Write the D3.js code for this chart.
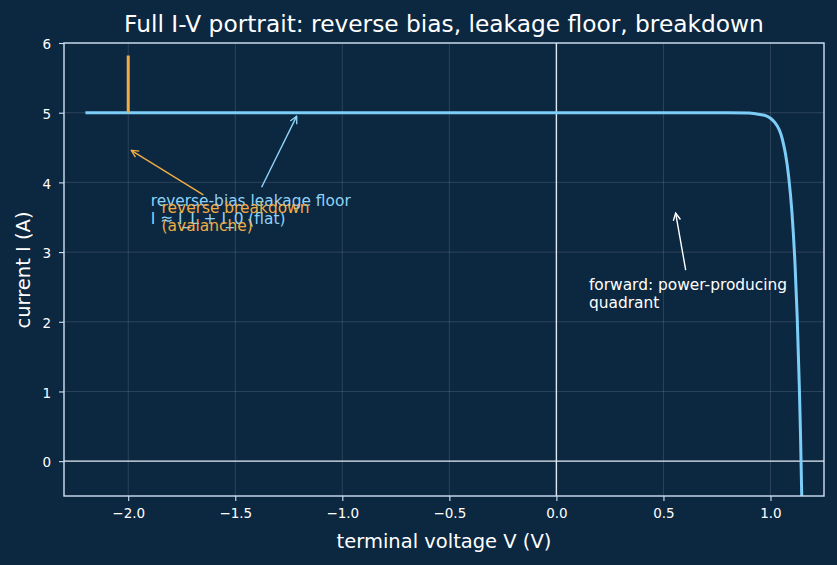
<!DOCTYPE html>
<html>
<head>
<meta charset="utf-8">
<script src="https://cdn.jsdelivr.net/npm/d3@7"></script>
<style>
  body { margin: 0; background: #0c2740; }
  svg { display: block; font-family: "DejaVu Sans", sans-serif; }
</style>
</head>
<body>
<svg id="chart" width="837" height="565"></svg>
<script>
// I-V curve
var voltage = [-2.2, -1.0, 0.0, 0.6, 0.8, 0.9, 0.95, 0.98, 1.0, 1.02, 1.04, 1.05, 1.06, 1.07, 1.085, 1.10, 1.115, 1.125, 1.135, 1.14, 1.146]
var current = [5.0, 5.0, 5.0, 5.0, 4.999, 4.994, 4.975, 4.955, 4.92, 4.86, 4.76, 4.68, 4.56, 4.41, 4.08, 3.58, 2.8, 2.05, 1.04, 0.42, -0.5]

// breakdown spike
var breakdownV = [-2.0, -2.0]
var breakdownI = [5.0, 5.82]

var xTicks = [-2.0, -1.5, -1.0, -0.5, 0.0, 0.5, 1.0]
var yTicks = [0, 1, 2, 3, 4, 5, 6]

// annotations: text lines, text anchor, arrow from -> to (data coords)
var notes = [
  {lines: ["reverse-bias leakage floor", "I \u2248 I_L + I_0 (flat)"], tx: -1.895, ty: 3.66, from: [-1.377, 3.93], to: [-1.213, 4.95], color: "#8fd3f7"},
  {lines: ["reverse breakdown", "(avalanche)"], tx: -1.844, ty: 3.56, from: [-1.649, 3.82], to: [-1.986, 4.46], color: "#f0ad45"},
  {lines: ["forward: power-producing", "quadrant"], tx: 0.152, ty: 2.45, from: [0.604, 2.74], to: [0.557, 3.56], color: "#ffffff"}
]

var svg = d3.select("#chart")
var mLeft = 64, mRight = 824, mTop = 43, mBottom = 496

var x = d3.scaleLinear().domain([-2.3, 1.25]).range([mLeft, mRight])
var y = d3.scaleLinear().domain([-0.5, 6]).range([mBottom, mTop])

var edgeColor = "#cfe2f3"

// grid
svg.append("g").selectAll("line")
  .data(xTicks).enter().append("line")
  .attr("x1", d => x(d)).attr("x2", d => x(d))
  .attr("y1", mTop).attr("y2", mBottom)
  .attr("stroke", "#ffffff").attr("stroke-opacity", 0.17).attr("stroke-width", 0.8)
svg.append("g").selectAll("line")
  .data(yTicks).enter().append("line")
  .attr("x1", mLeft).attr("x2", mRight)
  .attr("y1", d => y(d)).attr("y2", d => y(d))
  .attr("stroke", "#ffffff").attr("stroke-opacity", 0.17).attr("stroke-width", 0.8)

// zero lines
svg.append("line")
  .attr("x1", mLeft).attr("x2", mRight).attr("y1", y(0)).attr("y2", y(0))
  .attr("stroke", "#dde8f2").attr("stroke-width", 1.4)
svg.append("line")
  .attr("x1", x(0)).attr("x2", x(0)).attr("y1", mTop).attr("y2", mBottom)
  .attr("stroke", "#dde8f2").attr("stroke-width", 1.4)

// curve
var pts = voltage.map((v, i) => [v, current[i]])
svg.append("path")
  .datum(pts)
  .attr("fill", "none")
  .attr("stroke", "#7ccdf8")
  .attr("stroke-width", 3)
  .attr("stroke-linejoin", "round")
  .attr("d", d3.line().x(d => x(d[0])).y(d => y(d[1])).curve(d3.curveMonotoneX))

svg.append("path")
  .datum(breakdownV.map((v, i) => [v, breakdownI[i]]))
  .attr("fill", "none")
  .attr("stroke", "#f0ad45")
  .attr("stroke-width", 3)
  .attr("d", d3.line().x(d => x(d[0])).y(d => y(d[1])))

// axes
var xAxis = svg.append("g")
  .attr("transform", "translate(0," + mBottom + ")")
  .call(d3.axisBottom(x).tickValues(xTicks).tickFormat(d3.format(".1f")).tickSizeOuter(0).tickSize(5).tickPadding(7))
var yAxis = svg.append("g")
  .attr("transform", "translate(" + mLeft + ",0)")
  .call(d3.axisLeft(y).tickValues(yTicks).tickFormat(d3.format("d")).tickSizeOuter(0).tickSize(5).tickPadding(8))

;[xAxis, yAxis].forEach(g => {
  g.select(".domain").remove()
  g.selectAll("line").attr("stroke", edgeColor).attr("stroke-width", 1.1)
  g.selectAll("text").attr("fill", "#ffffff").style("font-size", "13.5px").style("font-family", "DejaVu Sans")
})
yAxis.selectAll("text").attr("dy", "0.42em")

// frame
svg.append("rect")
  .attr("x", mLeft).attr("y", mTop)
  .attr("width", mRight - mLeft).attr("height", mBottom - mTop)
  .attr("fill", "none").attr("stroke", edgeColor).attr("stroke-width", 1.4)

// arrow markers
var defs = svg.append("defs")
notes.forEach((n, i) => {
  defs.append("marker")
    .attr("id", "arr" + i)
    .attr("viewBox", "0 0 10 10")
    .attr("refX", 9).attr("refY", 5)
    .attr("markerWidth", 9).attr("markerHeight", 9)
    .attr("markerUnits", "userSpaceOnUse")
    .attr("orient", "auto")
    .append("path")
    .attr("d", "M1,1 L9,5 L1,9")
    .attr("fill", "none").attr("stroke", n.color).attr("stroke-width", 1.5)
})

var ann = svg.append("g")
notes.forEach((n, i) => {
  ann.append("line")
    .attr("x1", x(n.from[0])).attr("y1", y(n.from[1]))
    .attr("x2", x(n.to[0])).attr("y2", y(n.to[1]))
    .attr("stroke", n.color).attr("stroke-width", 1.4)
    .attr("marker-end", "url(#arr" + i + ")")
  var t = ann.append("text")
    .attr("x", x(n.tx)).attr("y", y(n.ty))
    .attr("fill", n.color)
    .style("font-size", "15.4px")
  n.lines.forEach((l, j) => {
    t.append("tspan").attr("x", x(n.tx)).attr("dy", j == 0 ? 0 : 17.5).text(l)
  })
})

// labels
svg.append("text")
  .attr("x", (mLeft + mRight) / 2).attr("y", 32)
  .attr("text-anchor", "middle").attr("fill", "#ffffff")
  .style("font-size", "23.3px")
  .text("Full I-V portrait: reverse bias, leakage floor, breakdown")
svg.append("text")
  .attr("x", (mLeft + mRight) / 2).attr("y", 548)
  .attr("text-anchor", "middle").attr("fill", "#ffffff")
  .style("font-size", "19.5px")
  .text("terminal voltage V (V)")
svg.append("text")
  .attr("transform", "translate(30,270) rotate(-90)")
  .attr("text-anchor", "middle").attr("fill", "#ffffff")
  .style("font-size", "19.5px")
  .text("current I (A)")
</script>
</body>
</html>
